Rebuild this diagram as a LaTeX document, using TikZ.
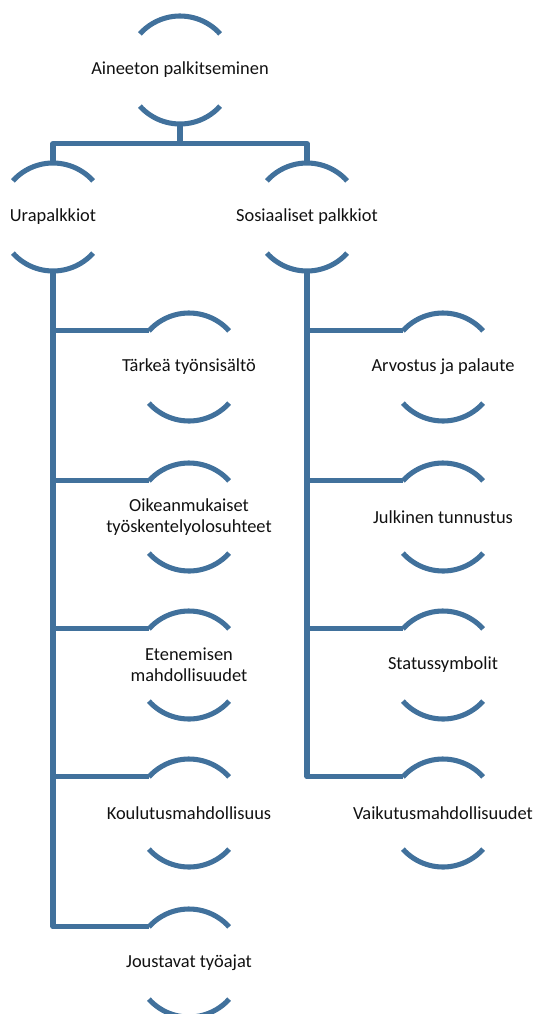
\documentclass[tikz,border=0pt]{standalone}
\usepackage{fontspec}
\setmainfont{Carlito}
\usetikzlibrary{positioning,calc}
\definecolor{ink}{HTML}{111111}
\definecolor{steel}{HTML}{41719C}
\tikzset{
  every node/.style={font=\fontsize{13.8}{16}\selectfont,text=ink},
  item/.style={inner sep=0pt,align=center},
  bar/.style={line width=3.8pt,draw=steel},
  elbow/.style={bar,line join=round}
}

\begin{document}
\begin{tikzpicture}[x=0.75pt,y=-0.75pt]
  \clip (0,0) rectangle (537,1014);
  \node[item] (root) at (180,70) {Aineeton palkitseminen};
  \node[item] (career) at (53,217) {Urapalkkiot};
  \node[item] (social) at (307,217) {Sosiaaliset palkkiot};

  \node[item] (content) at (189,367) {Tärkeä työnsisältö};
  \node[item] (fair) at (189,517) {Oikeanmukaiset\\työskentelyolosuhteet};
  \node[item] (advance) at (189,665) {Etenemisen\\mahdollisuudet};
  \node[item] (training) at (189,813) {Koulutusmahdollisuus};
  \node[item] (flexhours) at (189,963) {Joustavat työajat};

  \node[item] (feedback) at (443,367) {Arvostus ja palaute};
  \node[item] (publicrec) at (443,517) {Julkinen tunnustus};
  \node[item] (status) at (443,665) {Statussymbolit};
  \node[item] (influence) at (443,813) {Vaikutusmahdollisuudet};

  \foreach \n in {root,career,social,content,fair,advance,training,flexhours,feedback,publicrec,status,influence}{
    \coordinate (\n-top) at ($(\n.center)+(90:40.5pt)$);
    \coordinate (\n-bot) at ($(\n.center)+(270:40.5pt)$);
    \coordinate (\n-in) at ($(\n.center)+(138:40.5pt)$);
    \draw[bar] ($(\n.center)+(42:40.5pt)$) arc[start angle=42,end angle=138,radius=40.5pt];
    \draw[bar] ($(\n.center)+(222:40.5pt)$) arc[start angle=222,end angle=318,radius=40.5pt];
  }

  \coordinate (split) at ($(root-bot)!.5!(root-bot |- career-top)$);
  \draw[bar] (root-bot) -- (split);
  \draw[elbow] (career-top) |- (split) -| (social-top);

  \draw[elbow] (career-bot) |- (flexhours-in);
  \foreach \n in {content,fair,advance,training}
    \draw[bar] (career-bot |- \n-in) -- (\n-in);
  \draw[elbow] (social-bot) |- (influence-in);
  \foreach \n in {feedback,publicrec,status}
    \draw[bar] (social-bot |- \n-in) -- (\n-in);
\end{tikzpicture}
\end{document}
